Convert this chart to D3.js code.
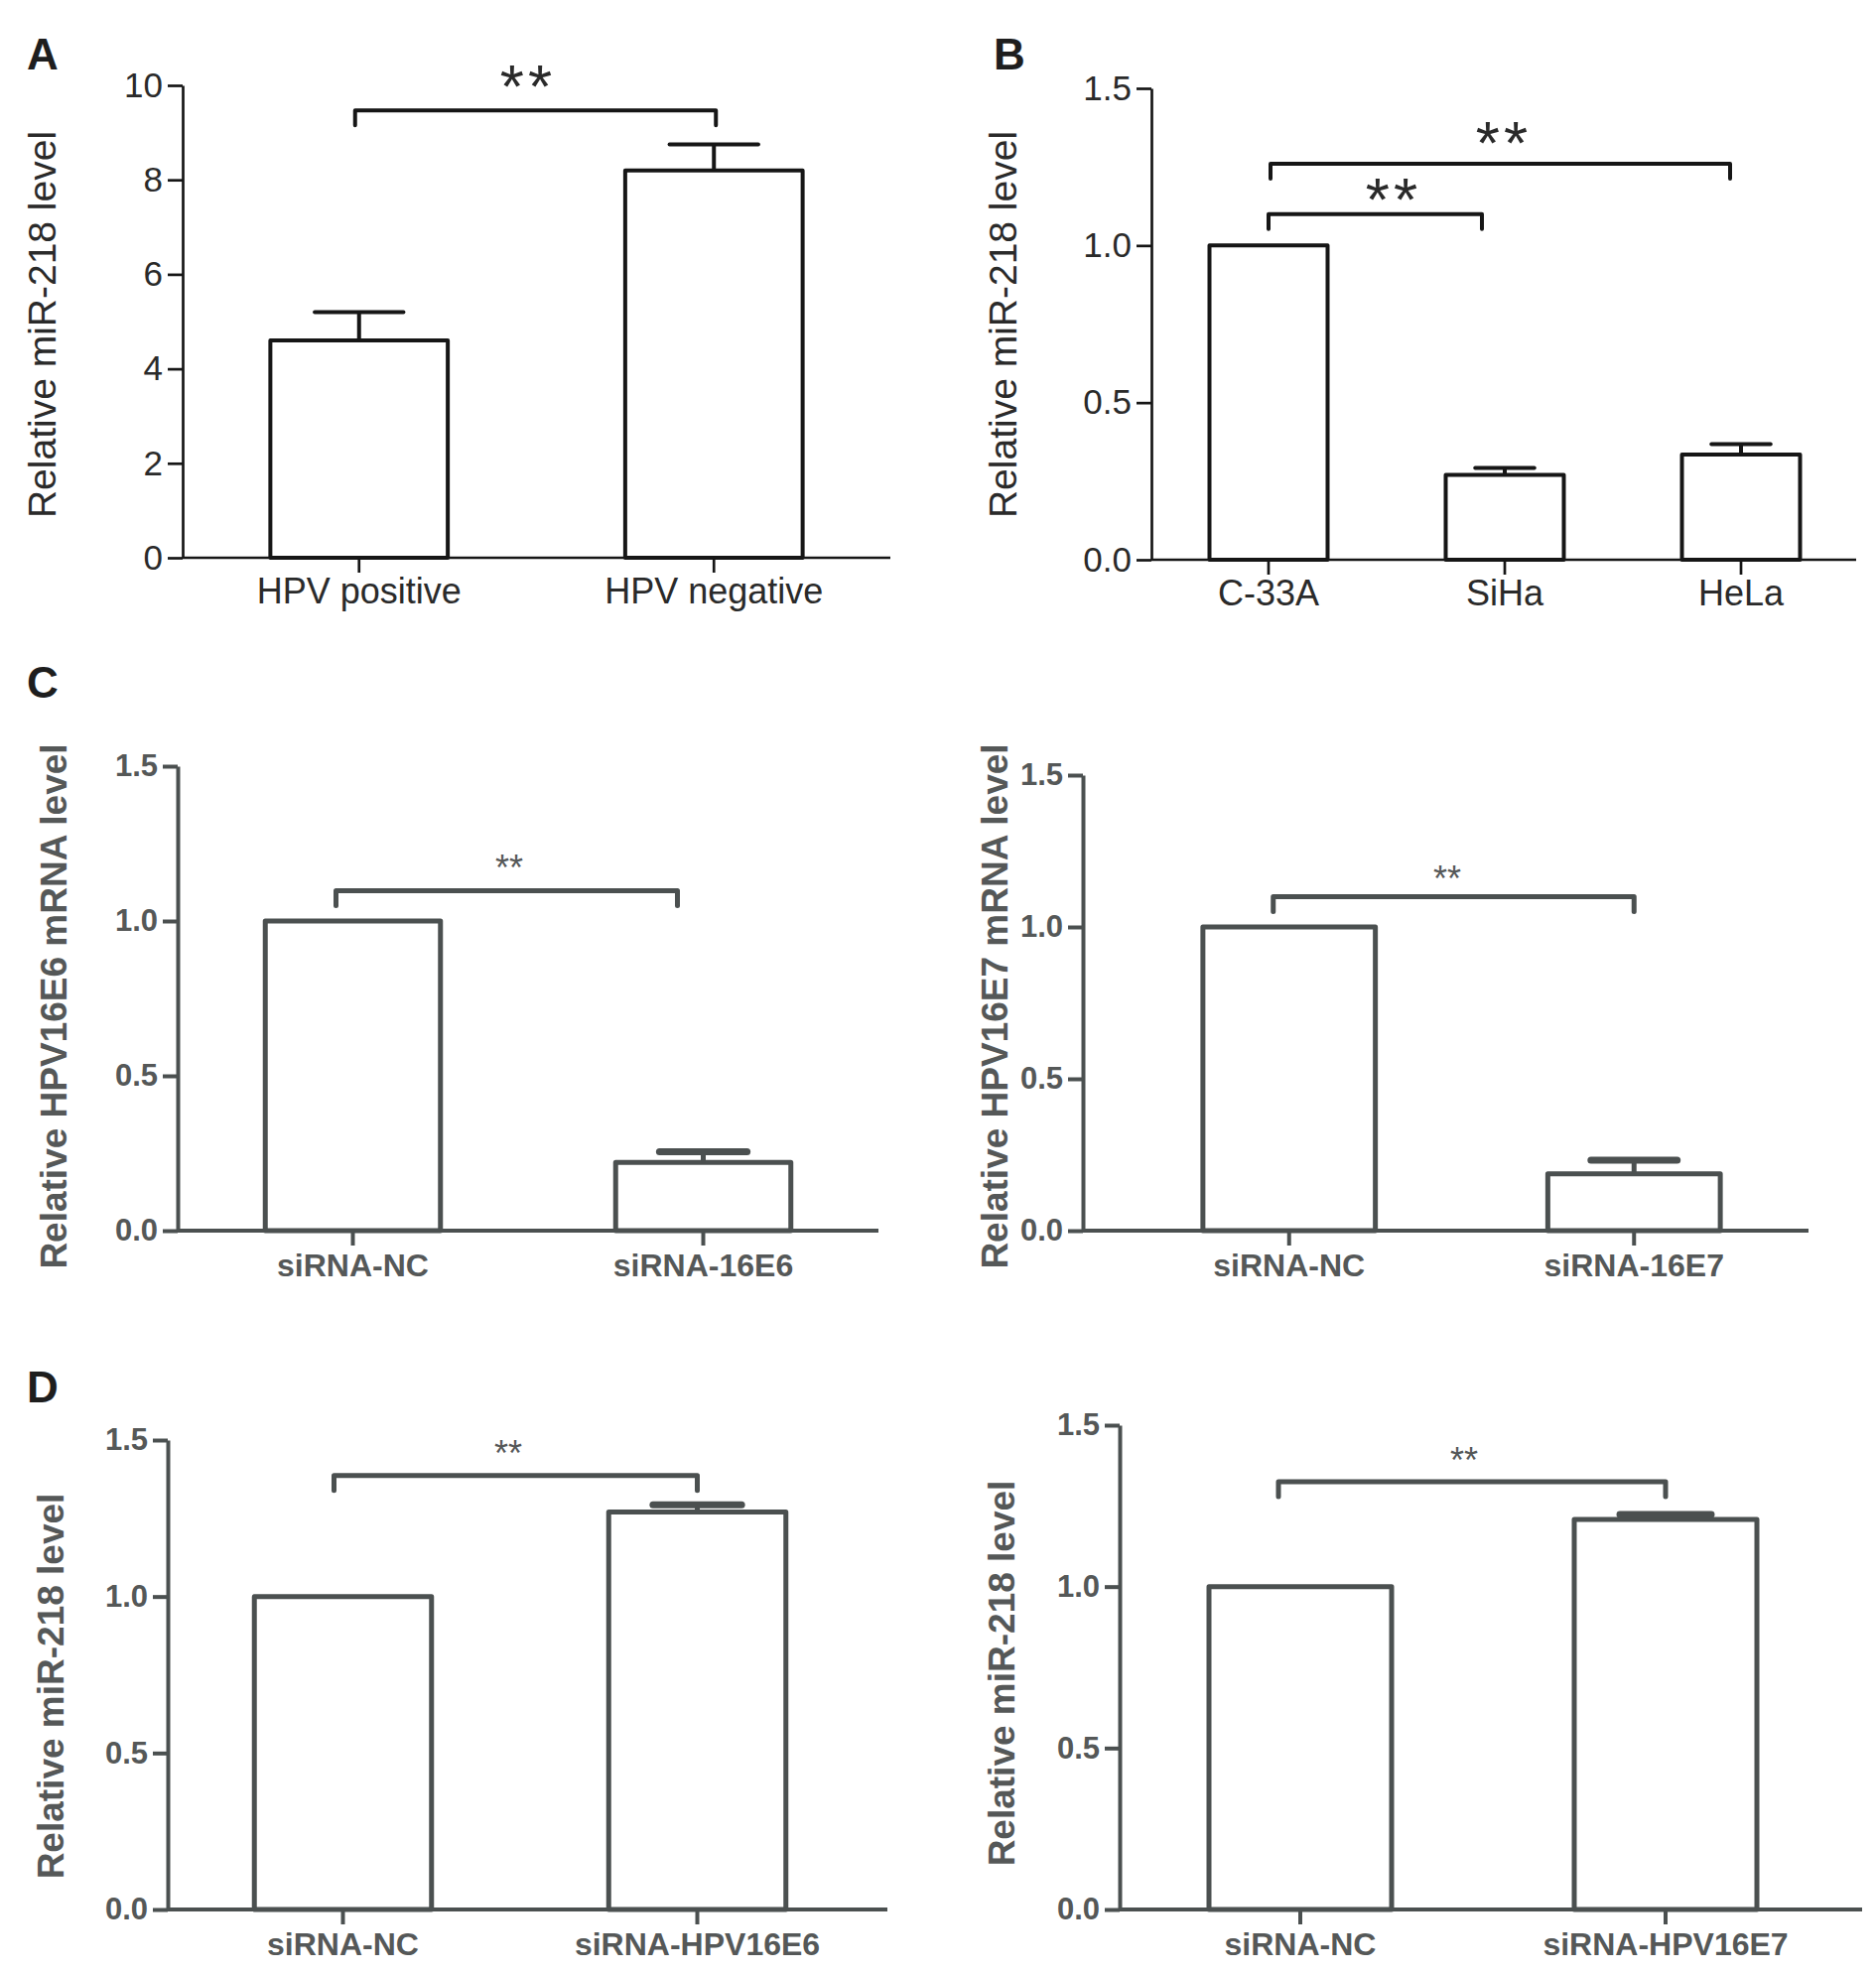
<!DOCTYPE html>
<html>
<head>
<meta charset="utf-8">
<script src="https://cdn.jsdelivr.net/npm/d3@7"></script>
<style>
  html, body { margin: 0; padding: 0; background: #fff; }
  svg { display: block; }
</style>
</head>
<body>
<svg id="chart" width="1890" height="1988"></svg>
<script>
// ---------------- DATA ----------------
// Panel A
const catsA = ["HPV positive", "HPV negative"];
const valsA = [4.6, 8.2];
const semA  = [0.6, 0.55];
const ticksA = [0, 2, 4, 6, 8, 10];
const bracketsA = [{from: 0, to: 1, level: 9.47, label: "**"}];

// Panel B
const catsB = ["C-33A", "SiHa", "HeLa"];
const valsB = [1.0, 0.27, 0.335];
const semB  = [0, 0.022, 0.033];
const ticksB = [0, 0.5, 1.0, 1.5];
const bracketsB = [
  {from: 0, to: 1, level: 1.10, label: "**"},
  {from: 0, to: 2, level: 1.26, label: "**"}
];

// Panel C (left)
const catsC1 = ["siRNA-NC", "siRNA-16E6"];
const valsC1 = [1.0, 0.22];
const semC1  = [0, 0.035];
const bracketsC1 = [{from: 0, to: 1, level: 1.098, label: "**"}];

// Panel C (right)
const catsC2 = ["siRNA-NC", "siRNA-16E7"];
const valsC2 = [1.0, 0.187];
const semC2  = [0, 0.045];
const bracketsC2 = [{from: 0, to: 1, level: 1.10, label: "**"}];

// Panel D (left)
const catsD1 = ["siRNA-NC", "siRNA-HPV16E6"];
const valsD1 = [1.0, 1.27];
const semD1  = [0, 0.023];
const bracketsD1 = [{from: 0, to: 1, level: 1.387, label: "**"}];

// Panel D (right)
const catsD2 = ["siRNA-NC", "siRNA-HPV16E7"];
const valsD2 = [1.0, 1.208];
const semD2  = [0, 0.015];
const bracketsD2 = [{from: 0, to: 1, level: 1.325, label: "**"}];

const ticks15 = [0, 0.5, 1.0, 1.5];

// ---------------- STYLES ----------------
const styleBlack = {
  color: "#161616", text: "#2a2a2a", barW: 4, axisW: 2.7, capW: 4, brW: 4,
  tickFont: "'Liberation Sans Narrow', 'Liberation Sans', Arial, sans-serif", tickSize: 35, tickWeight: "normal",
  catFont: "'Liberation Sans', Arial, sans-serif", catSize: 36, catWeight: "normal",
  yFont: "'Liberation Sans', Arial, sans-serif", ySize: 39, yWeight: "normal",
  starSize: 62, starSpacing: 4, starWeight: "normal"
};
const styleGray = {
  color: "#4b5050", text: "#555858", barW: 5, axisW: 4, capW: 7, brW: 5,
  tickFont: "'Liberation Sans', Arial, sans-serif", tickSize: 31, tickWeight: "bold",
  catFont: "'Liberation Sans', Arial, sans-serif", catSize: 32, catWeight: "bold",
  yFont: "'Liberation Sans', Arial, sans-serif", ySize: 37, yWeight: "bold",
  starSize: 36, starSpacing: 0, starWeight: "normal"
};

// ---------------- LAYOUT ----------------
const panels = [
  {cats: catsA, vals: valsA, sem: semA, brackets: bracketsA, ticks: ticksA, domain: [0, 10], fmt: d3.format("d"),
   ylabel: "Relative miR-218 level", st: styleBlack,
   axisX: 184, yTop: 86, yBottom: 562, axisRight: 897, band: [183, 898],
   ylab: [42, 327], brOff: [[-4, 2]], stars: [[532, 79]]},
  {cats: catsB, vals: valsB, sem: semB, brackets: bracketsB, ticks: ticksB, domain: [0, 1.5], fmt: d3.format(".1f"),
   ylabel: "Relative miR-218 level", st: styleBlack,
   axisX: 1160, yTop: 89, yBottom: 564, axisRight: 1870, band: [1159, 1873],
   ylab: [1010, 327], brOff: [[0, -23], [2, -11]], stars: [[1404, 193], [1515, 136]]},
  {cats: catsC1, vals: valsC1, sem: semC1, brackets: bracketsC1, ticks: ticks15, domain: [0, 1.5], fmt: d3.format(".1f"),
   ylabel: "Relative HPV16E6 mRNA level", st: styleGray,
   axisX: 179, yTop: 772, yBottom: 1240, axisRight: 885, band: [179, 885],
   ylab: [54, 1014], brOff: [[-17, -26]], stars: [[513, 870]]},
  {cats: catsC2, vals: valsC2, sem: semC2, brackets: bracketsC2, ticks: ticks15, domain: [0, 1.5], fmt: d3.format(".1f"),
   ylabel: "Relative HPV16E7 mRNA level", st: styleGray,
   axisX: 1091, yTop: 781, yBottom: 1240, axisRight: 1822, band: [1125, 1820],
   ylab: [1002, 1014], brOff: [[-16, 0]], stars: [[1458, 881]]},
  {cats: catsD1, vals: valsD1, sem: semD1, brackets: bracketsD1, ticks: ticks15, domain: [0, 1.5], fmt: d3.format(".1f"),
   ylabel: "Relative miR-218 level", st: styleGray,
   axisX: 169, yTop: 1451, yBottom: 1924, axisRight: 894, band: [167, 881],
   ylab: [51, 1699], brOff: [[-9, 0]], stars: [[512, 1460]]},
  {cats: catsD2, vals: valsD2, sem: semD2, brackets: bracketsD2, ticks: ticks15, domain: [0, 1.5], fmt: d3.format(".1f"),
   ylabel: "Relative miR-218 level", st: styleGray,
   axisX: 1128, yTop: 1436, yBottom: 1924, axisRight: 1876, band: [1126, 1862],
   ylab: [1009, 1686], brOff: [[-22, 0]], stars: [[1475, 1467]]}
];

const panelLetters = [
  {t: "A", x: 27, y: 70},
  {t: "B", x: 1001, y: 70},
  {t: "C", x: 27, y: 703},
  {t: "D", x: 27, y: 1413}
];

// ---------------- DRAW ----------------
const svg = d3.select("#chart");
svg.append("rect").attr("width", 1890).attr("height", 1988).attr("fill", "#fff");

function drawPanel(p) {
  const st = p.st;
  const g = svg.append("g");
  const y = d3.scaleLinear().domain(p.domain).range([p.yBottom, p.yTop]);
  const x = d3.scaleBand().domain(p.cats).range(p.band).paddingInner(0.5).paddingOuter(0.25);
  const bw = x.bandwidth();
  const data = p.cats.map((c, i) => ({c, v: p.vals[i], s: p.sem[i]}));

  // bars
  g.selectAll("rect.bar").data(data).join("rect")
    .attr("class", "bar")
    .attr("x", d => x(d.c))
    .attr("width", bw)
    .attr("y", d => y(d.v))
    .attr("height", d => y(0) - y(d.v))
    .attr("fill", "#fff")
    .attr("stroke", st.color)
    .attr("stroke-width", st.barW)
    .attr("stroke-linejoin", "round");

  // error bars (upper only)
  const eb = data.filter(d => d.s > 0);
  g.selectAll("line.err").data(eb).join("line")
    .attr("x1", d => x(d.c) + bw / 2).attr("x2", d => x(d.c) + bw / 2)
    .attr("y1", d => y(d.v)).attr("y2", d => y(d.v + d.s))
    .attr("stroke", st.color).attr("stroke-width", st.barW);
  g.selectAll("line.cap").data(eb).join("line")
    .attr("x1", d => x(d.c) + bw / 4).attr("x2", d => x(d.c) + bw * 3 / 4)
    .attr("y1", d => y(d.v + d.s)).attr("y2", d => y(d.v + d.s))
    .attr("stroke", st.color).attr("stroke-width", st.capW).attr("stroke-linecap", "round");

  // y axis
  const ya = d3.axisLeft(y).tickValues(p.ticks).tickFormat(p.fmt).tickSize(15).tickSizeOuter(0).tickPadding(5);
  const yg = g.append("g").attr("transform", `translate(${p.axisX},0)`).call(ya);
  yg.select(".domain").attr("stroke", st.color).attr("stroke-width", st.axisW);
  yg.selectAll(".tick line").attr("stroke", st.color).attr("stroke-width", st.axisW);
  yg.selectAll(".tick text")
    .attr("fill", st.text)
    .style("font-family", st.tickFont)
    .style("font-size", st.tickSize + "px")
    .style("font-weight", st.tickWeight);

  // x axis
  const xa = d3.axisBottom(x).tickSize(15).tickSizeOuter(0);
  const xg = g.append("g").attr("transform", `translate(0,${p.yBottom})`).call(xa);
  xg.select(".domain").remove();
  xg.append("line").attr("x1", p.axisX).attr("x2", p.axisRight).attr("y1", 0).attr("y2", 0)
    .attr("stroke", st.color).attr("stroke-width", st.axisW);
  xg.selectAll(".tick line").attr("stroke", st.color).attr("stroke-width", st.axisW);
  xg.selectAll(".tick text")
    .attr("y", 46).attr("dy", null)
    .attr("fill", st.text)
    .style("font-family", st.catFont)
    .style("font-size", st.catSize + "px")
    .style("font-weight", st.catWeight);
  xg.attr("font-family", null).attr("font-size", null);
  yg.attr("font-family", null).attr("font-size", null);

  // y label
  g.append("text")
    .attr("transform", `translate(${p.ylab[0]},${p.ylab[1]}) rotate(-90)`)
    .attr("text-anchor", "middle")
    .attr("dominant-baseline", "central")
    .attr("fill", st.text)
    .style("font-family", st.yFont)
    .style("font-size", st.ySize + "px")
    .style("font-weight", st.yWeight)
    .text(p.ylabel);

  // significance brackets
  p.brackets.forEach((b, i) => {
    const off = p.brOff[i] || [0, 0];
    const x1 = x(p.cats[b.from]) + bw / 2 + off[0];
    const x2 = x(p.cats[b.to]) + bw / 2 + off[1];
    const yb = y(b.level);
    const leg = 15;
    g.append("path")
      .attr("d", `M${x1},${yb + leg}V${yb}H${x2}V${yb + leg}`)
      .attr("fill", "none")
      .attr("stroke", st.color)
      .attr("stroke-width", st.brW)
      .attr("stroke-linejoin", "round")
      .attr("stroke-linecap", "round");
    const sp = p.stars[i];
    g.append("text")
      .attr("x", sp[0]).attr("y", sp[1] + 0.46 * st.starSize)
      .attr("text-anchor", "middle")
      .attr("fill", st.text)
      .style("font-family", "'Liberation Sans', Arial, sans-serif")
      .style("font-size", st.starSize + "px")
      .style("font-weight", st.starWeight)
      .style("letter-spacing", st.starSpacing + "px")
      .text(b.label);
  });
}

panels.forEach(drawPanel);

svg.selectAll("text.panel").data(panelLetters).join("text")
  .attr("class", "panel")
  .attr("x", d => d.x).attr("y", d => d.y)
  .attr("fill", "#1e1e1e")
  .style("font-family", "'Liberation Sans', Arial, sans-serif")
  .style("font-size", "44px")
  .style("font-weight", "bold")
  .text(d => d.t);
</script>
</body>
</html>
